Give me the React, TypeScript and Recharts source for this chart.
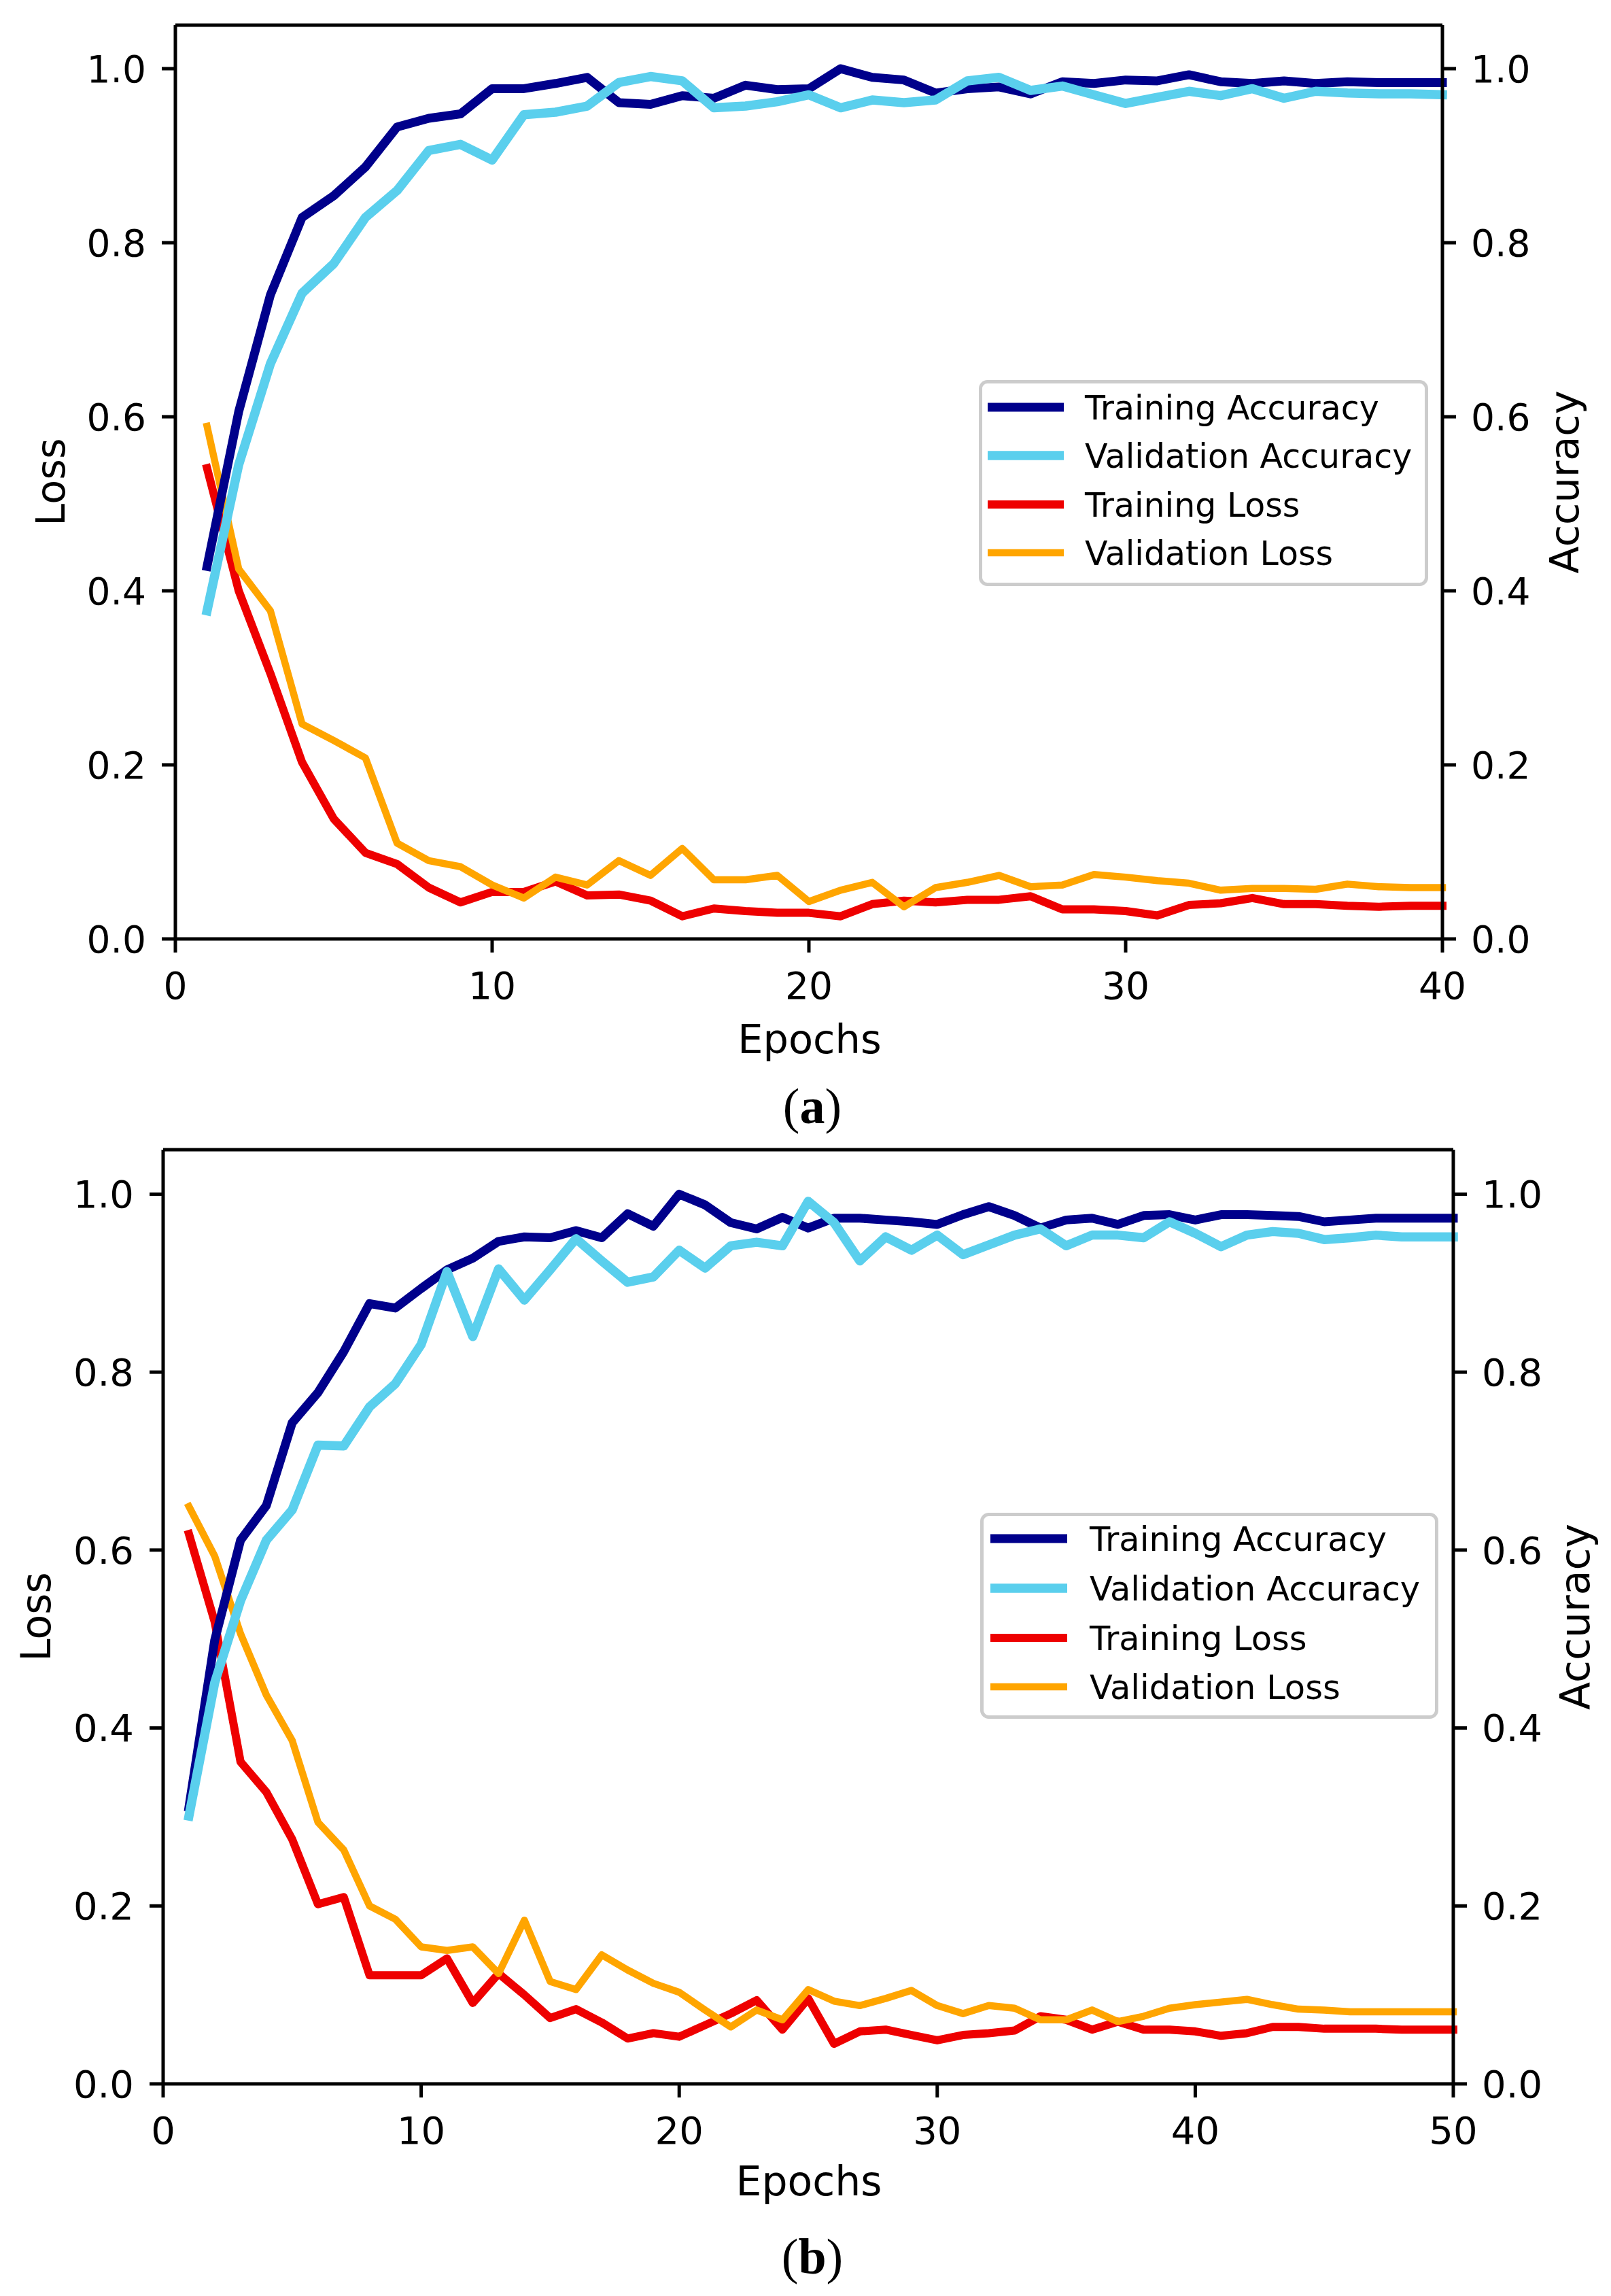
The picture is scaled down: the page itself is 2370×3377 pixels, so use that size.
import React from 'react';
import { LineChart, Line, XAxis, YAxis, Legend, ReferenceLine } from 'recharts';

const FONT = 'DejaVu Sans';
const SERIF = '"Liberation Serif", "Times New Roman", serif';

// ---------- panel (a) ----------
const EPOCHS_A = [1, 2, 3, 4, 5, 6, 7, 8, 9, 10, 11, 12, 13, 14, 15, 16, 17, 18, 19, 20,
  21, 22, 23, 24, 25, 26, 27, 28, 29, 30, 31, 32, 33, 34, 35, 36, 37, 38, 39, 40];
const TRAIN_ACC_A = [0.428, 0.606, 0.740, 0.829, 0.854, 0.887, 0.933, 0.943, 0.948, 0.977,
  0.977, 0.983, 0.990, 0.961, 0.959, 0.969, 0.966, 0.981, 0.976, 0.977,
  1.0, 0.990, 0.987, 0.972, 0.977, 0.979, 0.971, 0.985, 0.983, 0.987,
  0.986, 0.993, 0.985, 0.983, 0.986, 0.983, 0.985, 0.984, 0.984, 0.984];
const VAL_ACC_A = [0.377, 0.545, 0.661, 0.742, 0.776, 0.829, 0.860, 0.906, 0.913, 0.895,
  0.947, 0.950, 0.957, 0.984, 0.991, 0.986, 0.955, 0.957, 0.962, 0.970,
  0.955, 0.964, 0.961, 0.964, 0.986, 0.990, 0.975, 0.980, 0.970, 0.960,
  0.967, 0.974, 0.969, 0.977, 0.966, 0.974, 0.972, 0.971, 0.971, 0.970];
const TRAIN_LOSS_A = [0.541, 0.400, 0.305, 0.203, 0.138, 0.099, 0.086, 0.059, 0.042, 0.054,
  0.054, 0.066, 0.050, 0.051, 0.044, 0.026, 0.035, 0.032, 0.030, 0.030,
  0.026, 0.040, 0.044, 0.042, 0.045, 0.045, 0.049, 0.034, 0.034, 0.032,
  0.027, 0.039, 0.041, 0.047, 0.040, 0.040, 0.038, 0.037, 0.038, 0.038];
const VAL_LOSS_A = [0.589, 0.425, 0.377, 0.247, 0.228, 0.208, 0.110, 0.090, 0.083, 0.062,
  0.047, 0.071, 0.062, 0.090, 0.073, 0.104, 0.068, 0.068, 0.073, 0.043,
  0.056, 0.065, 0.037, 0.059, 0.065, 0.073, 0.060, 0.062, 0.074, 0.071,
  0.067, 0.064, 0.056, 0.058, 0.058, 0.057, 0.063, 0.060, 0.059, 0.059];
const X_TICKS_A = [0, 10, 20, 30, 40];

// ---------- panel (b) ----------
const EPOCHS_B = [1, 2, 3, 4, 5, 6, 7, 8, 9, 10, 11, 12, 13, 14, 15, 16, 17, 18, 19, 20,
  21, 22, 23, 24, 25, 26, 27, 28, 29, 30, 31, 32, 33, 34, 35, 36, 37, 38, 39, 40,
  41, 42, 43, 44, 45, 46, 47, 48, 49, 50];
const TRAIN_ACC_B = [0.311, 0.499, 0.611, 0.650, 0.743, 0.777, 0.823, 0.877, 0.872, 0.894,
  0.915, 0.928, 0.947, 0.952, 0.951, 0.959, 0.951, 0.978, 0.964, 1.0,
  0.988, 0.968, 0.961, 0.974, 0.962, 0.973, 0.973, 0.971, 0.969, 0.966,
  0.977, 0.986, 0.976, 0.962, 0.971, 0.973, 0.966, 0.976, 0.977, 0.971,
  0.977, 0.977, 0.976, 0.975, 0.969, 0.971, 0.973, 0.973, 0.973, 0.973];
const VAL_ACC_B = [0.301, 0.451, 0.543, 0.611, 0.645, 0.718, 0.717, 0.761, 0.787, 0.831,
  0.913, 0.840, 0.916, 0.881, 0.915, 0.950, 0.925, 0.901, 0.907, 0.937,
  0.917, 0.942, 0.946, 0.942, 0.992, 0.968, 0.925, 0.952, 0.937, 0.954,
  0.932, 0.943, 0.954, 0.961, 0.942, 0.954, 0.954, 0.951, 0.969, 0.956,
  0.941, 0.954, 0.958, 0.956, 0.949, 0.951, 0.954, 0.952, 0.952, 0.952];
const TRAIN_LOSS_B = [0.618, 0.519, 0.362, 0.328, 0.275, 0.202, 0.210, 0.122, 0.122, 0.122,
  0.141, 0.091, 0.124, 0.100, 0.074, 0.084, 0.069, 0.051, 0.057, 0.053,
  0.066, 0.079, 0.094, 0.061, 0.096, 0.045, 0.059, 0.061, 0.055, 0.049,
  0.055, 0.057, 0.060, 0.076, 0.072, 0.061, 0.070, 0.061, 0.061, 0.059,
  0.054, 0.057, 0.064, 0.064, 0.062, 0.062, 0.062, 0.061, 0.061, 0.061];
const VAL_LOSS_B = [0.649, 0.593, 0.506, 0.437, 0.386, 0.294, 0.263, 0.200, 0.185, 0.154,
  0.150, 0.154, 0.124, 0.184, 0.115, 0.106, 0.145, 0.128, 0.113, 0.103,
  0.083, 0.064, 0.083, 0.072, 0.106, 0.093, 0.088, 0.096, 0.105, 0.088,
  0.079, 0.088, 0.085, 0.072, 0.072, 0.083, 0.070, 0.076, 0.085, 0.089,
  0.092, 0.095, 0.089, 0.084, 0.083, 0.081, 0.081, 0.081, 0.081, 0.081];
const X_TICKS_B = [0, 10, 20, 30, 40, 50];

const Y_TICKS = [0, 0.2, 0.4, 0.6, 0.8, 1.0];
const Y_DOMAIN = [0, 1.05];

const SERIES = [
  { key: 'trainAcc', name: 'Training Accuracy', color: '#00008B', width: 13, axis: 'acc' },
  { key: 'valAcc', name: 'Validation Accuracy', color: '#5ACFED', width: 13.5, axis: 'acc' },
  { key: 'trainLoss', name: 'Training Loss', color: '#EE0000', width: 12, axis: 'loss' },
  { key: 'valLoss', name: 'Validation Loss', color: '#FFA500', width: 10.5, axis: 'loss' },
];
const DRAW_ORDER = ['trainLoss', 'valLoss', 'trainAcc', 'valAcc'];

function buildRows(epochs, ta, va, tl, vl) {
  return epochs.map((e, i) => ({ epoch: e, trainAcc: ta[i], valAcc: va[i], trainLoss: tl[i], valLoss: vl[i] }));
}
const ROWS_A = buildRows(EPOCHS_A, TRAIN_ACC_A, VAL_ACC_A, TRAIN_LOSS_A, VAL_LOSS_A);
const ROWS_B = buildRows(EPOCHS_B, TRAIN_ACC_B, VAL_ACC_B, TRAIN_LOSS_B, VAL_LOSS_B);

const GEO_A = {
  top: 0, height: 1530, plotTop: 37, plotBottom: 1381, plotLeft: 258, plotRight: 2122,
  tickFont: 55, tickMargin: 29,
  legend: { x: 1440, y: 559, w: 661, h: 303, rows: [40, 111, 183, 254], swX0: 13, swX1: 125, textX: 156, font: 49 },
};
const GEO_B = {
  top: 1600, height: 1620, plotTop: 1691, plotBottom: 3065, plotLeft: 240, plotRight: 2138,
  tickFont: 56, tickMargin: 28,
  legend: { x: 1442, y: 2225, w: 674, h: 303, rows: [38, 111, 184, 256], swX0: 15, swX1: 128, textX: 161, font: 49.5 },
};

const axisStyle = { stroke: '#000', strokeWidth: 5 };
const fmt = (v) => Number(v).toFixed(1);

function LegendBox({ lg }) {
  return (
    <svg width={lg.w} height={lg.h} style={{ display: 'block' }}>
      <rect x={2.5} y={2.5} width={lg.w - 5} height={lg.h - 5} rx={10} ry={10} fill="#fff" stroke="#cccccc" strokeWidth={5} />
      {SERIES.map((s, i) => (
        <g key={s.key}>
          <line x1={lg.swX0} x2={lg.swX1} y1={lg.rows[i]} y2={lg.rows[i]} stroke={s.color} strokeWidth={s.width} />
          <text x={lg.textX} y={lg.rows[i] + 18} fontFamily={FONT} fontSize={lg.font} fill="#000">{s.name}</text>
        </g>
      ))}
    </svg>
  );
}

function Panel({ rows, xMax, xTicks, g }) {
  const tickFont = { fontSize: g.tickFont, fill: '#000', fontFamily: FONT };
  const plotBottomLocal = g.plotBottom - g.top;
  const lg = g.legend;
  return (
    <div style={{ position: 'absolute', left: 0, top: g.top }}>
      <LineChart width={2370} height={g.height} data={rows}
        margin={{ top: g.plotTop - g.top, right: 0, bottom: 0, left: 0 }}>
        <XAxis dataKey="epoch" type="number" domain={[0, xMax]} ticks={xTicks} interval={0}
          height={g.height - plotBottomLocal} axisLine={axisStyle} tickLine={axisStyle}
          tickSize={20} tickMargin={g.tickMargin} tick={tickFont} />
        <YAxis yAxisId="loss" orientation="left" width={g.plotLeft} domain={Y_DOMAIN} ticks={Y_TICKS}
          interval={0} tickFormatter={fmt} axisLine={axisStyle} tickLine={axisStyle}
          tickSize={20} tickMargin={23} tick={tickFont} />
        <YAxis yAxisId="acc" orientation="right" width={2370 - g.plotRight} domain={Y_DOMAIN} ticks={Y_TICKS}
          interval={0} tickFormatter={fmt} axisLine={axisStyle} tickLine={axisStyle}
          tickSize={20} tickMargin={22} tick={tickFont} />
        <ReferenceLine yAxisId="loss" y={1.05} stroke="#000" strokeWidth={5} />
        {DRAW_ORDER.map((k) => {
          const s = SERIES.find((x) => x.key === k);
          return (
            <Line key={s.key} yAxisId={s.axis} type="linear" dataKey={s.key} name={s.name}
              stroke={s.color} strokeWidth={s.width} dot={false} activeDot={false}
              strokeLinejoin="round" strokeLinecap="square" isAnimationActive={false} />
          );
        })}
        <Legend layout="vertical" align="center" verticalAlign="middle"
          wrapperStyle={{ left: lg.x, top: lg.y - g.top, width: lg.w, height: lg.h }}
          content={() => <LegendBox lg={lg} />} />
      </LineChart>
    </div>
  );
}

function Labels() {
  const lab = { fontFamily: FONT, fill: '#000' };
  return (
    <svg width={2370} height={3377} style={{ position: 'absolute', left: 0, top: 0, pointerEvents: 'none' }}>
      {/* panel (a) */}
      <text transform="translate(95,709) rotate(-90)" textAnchor="middle" fontSize={59} {...lab}>Loss</text>
      <text transform="translate(2322,709) rotate(-90)" textAnchor="middle" fontSize={59} {...lab}>Accuracy</text>
      <text x={1191} y={1549} textAnchor="middle" fontSize={59} {...lab}>Epochs</text>
      <text x={1195} y={1652} textAnchor="middle" fontSize={74} fontFamily={SERIF} fill="#000">
        (<tspan fontWeight="bold">a</tspan>)
      </text>
      {/* panel (b) */}
      <text transform="translate(74,2378) rotate(-90)" textAnchor="middle" fontSize={60} {...lab}>Loss</text>
      <text transform="translate(2338,2378) rotate(-90)" textAnchor="middle" fontSize={60} {...lab}>Accuracy</text>
      <text x={1190} y={3229} textAnchor="middle" fontSize={60} {...lab}>Epochs</text>
      <text x={1195} y={3344} textAnchor="middle" fontSize={74} fontFamily={SERIF} fill="#000">
        (<tspan fontWeight="bold">b</tspan>)
      </text>
    </svg>
  );
}

export default function App() {
  return (
    <div style={{ position: 'absolute', left: 0, top: 0, width: 2370, height: 3377, background: '#fff', overflow: 'hidden' }}>
      <Panel rows={ROWS_A} xMax={40} xTicks={X_TICKS_A} g={GEO_A} />
      <Panel rows={ROWS_B} xMax={50} xTicks={X_TICKS_B} g={GEO_B} />
      <Labels />
    </div>
  );
}
